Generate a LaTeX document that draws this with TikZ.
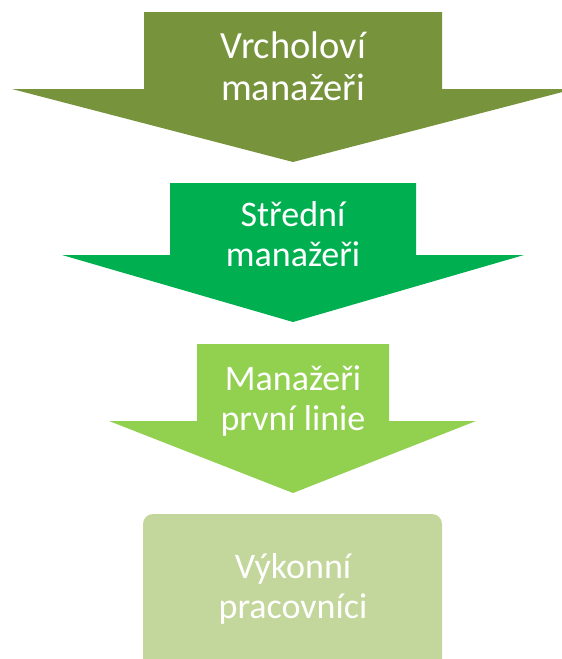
\documentclass[tikz,border=0pt]{standalone}
\usepackage{fontspec}
\setmainfont{Carlito}
\usepackage{tikz}

\definecolor{toplevel}{HTML}{77933C}
\definecolor{midlevel}{HTML}{00B050}
\definecolor{linelevel}{HTML}{92D050}
\definecolor{worklevel}{HTML}{C3D69B}

\tikzset{
    levellabel/.style={text=white, align=center, inner sep=0pt,
        font=\fontsize{36}{39.5}\selectfont},
}

\begin{document}
\begin{tikzpicture}[x=1pt,y=-1pt]
        \clip (0,0) rectangle (562,659);
        % top managers arrow
        \fill[toplevel] (144,12) -- (442,12) -- (442,89) -- (574,89)
            -- (293,162) -- (12,89) -- (144,89) -- cycle;
        % middle managers arrow
        \fill[midlevel] (170,183) -- (416,183) -- (416,255) -- (524,255)
            -- (293,322) -- (62,255) -- (170,255) -- cycle;
        % first line managers arrow
        \fill[linelevel] (197,344) -- (389,344) -- (389,421) -- (476,421)
            -- (293,493) -- (109,421) -- (197,421) -- cycle;
        % workers box, runs past the bottom edge
        \fill[worklevel, rounded corners=10pt] (143,514) rectangle (442,675);

        \node[levellabel, font=\fontsize{38.5}{42}\selectfont] (top) at (293,66) {Vrcholoví\\manažeři};
        \node[levellabel] (middle) at (293,234) {Střední\\manažeři};
        \node[levellabel] (first) at (293,401) {Manažeři\\první linie};
        \node[levellabel] (workers) at (293,589) {Výkonní\\pracovníci};
    \end{tikzpicture}
\end{document}
